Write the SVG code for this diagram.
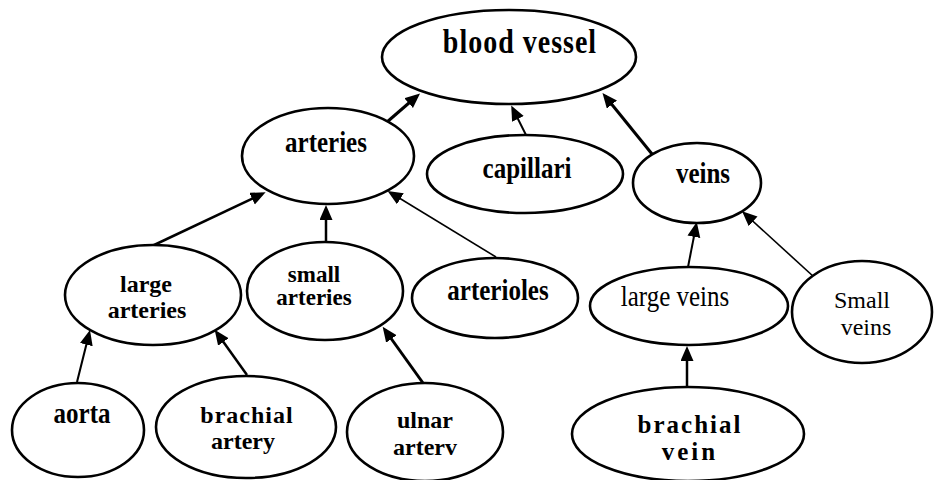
<svg xmlns="http://www.w3.org/2000/svg" width="935" height="480" viewBox="0 0 935 480">
<style>
  .node ellipse { fill: #fff; stroke: #000; stroke-width: 2.6; }
  .node text { font-family: "Liberation Serif", "Times New Roman", serif; font-weight: bold; font-size: 25px; fill: #000; text-anchor: middle; }
  .node text.two { font-size: 24px; }
  .node text.reg { font-weight: normal; }
  .edges line { stroke: #000; marker-end: url(#arrow); }
</style>
<defs>
  <marker id="arrow" markerUnits="userSpaceOnUse" markerWidth="16" markerHeight="14" refX="11" refY="6.5" orient="auto">
    <path d="M0,0 L15,6.5 L0,13 z" fill="#000"/>
  </marker>
</defs>
<rect width="935" height="480" fill="#fff"/>
<g class="edges">
  <line x1="387" y1="122" x2="417" y2="96" stroke-width="3"/>
  <line x1="526" y1="135" x2="513" y2="109" stroke-width="2"/>
  <line x1="652" y1="154" x2="605" y2="96" stroke-width="3"/>
  <line x1="152" y1="246" x2="262" y2="194" stroke-width="2.5"/>
  <line x1="326" y1="242" x2="326" y2="209" stroke-width="2.5"/>
  <line x1="496" y1="257" x2="391" y2="193" stroke-width="1.6"/>
  <line x1="77" y1="382" x2="89" y2="334" stroke-width="2"/>
  <line x1="247" y1="375" x2="217" y2="333" stroke-width="2.5"/>
  <line x1="423" y1="383" x2="385" y2="330" stroke-width="3"/>
  <line x1="687" y1="387" x2="687" y2="350" stroke-width="2.5"/>
  <line x1="688" y1="267" x2="696" y2="226" stroke-width="2"/>
  <line x1="814" y1="277" x2="745" y2="214" stroke-width="1.6"/>
</g>
<g id="blood_vessel" class="node">
  <ellipse cx="509" cy="57" rx="127" ry="47"/>
  <text transform="translate(520 53) scale(1 1.2)" style="font-size:28px;letter-spacing:1px">blood vessel</text>
</g>
<g id="arteries" class="node">
  <ellipse cx="328" cy="156" rx="86" ry="48"/>
  <text transform="translate(326 152) scale(1 1.2)">arteries</text>
</g>
<g id="capillari" class="node">
  <ellipse cx="525" cy="174" rx="98" ry="39"/>
  <text transform="translate(527 178) scale(1 1.2)">capillari</text>
</g>
<g id="veins" class="node">
  <ellipse cx="697" cy="183" rx="64" ry="40"/>
  <text transform="translate(703 183) scale(1 1.2)">veins</text>
</g>
<g id="large_arteries" class="node">
  <ellipse cx="153" cy="295" rx="88" ry="50"/>
  <text class="two" x="146" y="292">large</text>
  <text class="two" x="147" y="318">arteries</text>
</g>
<g id="small_arteries" class="node">
  <ellipse cx="325" cy="291" rx="78" ry="49"/>
  <text class="two" x="314" y="282" style="font-size:23px">small</text>
  <text class="two" x="314" y="305" style="font-size:23px">arteries</text>
</g>
<g id="arterioles" class="node">
  <ellipse cx="495" cy="298" rx="83" ry="40"/>
  <text transform="translate(498 300) scale(1 1.2)">arterioles</text>
</g>
<g id="large_veins" class="node">
  <ellipse cx="689" cy="306" rx="99" ry="39"/>
  <text class="reg" transform="translate(675 306) scale(1 1.15)">large veins</text>
</g>
<g id="small_veins" class="node">
  <ellipse cx="862" cy="312" rx="70" ry="51"/>
  <text class="reg two" x="862" y="308">Small</text>
  <text class="reg two" x="866" y="335">veins</text>
</g>
<g id="aorta" class="node">
  <ellipse cx="78" cy="430" rx="66" ry="47"/>
  <text transform="translate(82 423) scale(1 1.2)">aorta</text>
</g>
<g id="brachial_artery" class="node">
  <ellipse cx="246" cy="427" rx="90" ry="51"/>
  <text class="two" x="247" y="423" style="letter-spacing:1px">brachial</text>
  <text class="two" x="243" y="449">artery</text>
</g>
<g id="ulnar_artery" class="node">
  <ellipse cx="425" cy="432" rx="78" ry="49"/>
  <text class="two" x="425" y="428">ulnar</text>
  <text class="two" x="425" y="455">arterv</text>
</g>
<g id="brachial_vein" class="node">
  <ellipse cx="688" cy="434" rx="116" ry="47"/>
  <text class="two" x="690" y="433" style="letter-spacing:2px;font-size:25px">brachial</text>
  <text class="two" x="690" y="460" style="letter-spacing:3px;font-size:25px">vein</text>
</g>
</svg>
